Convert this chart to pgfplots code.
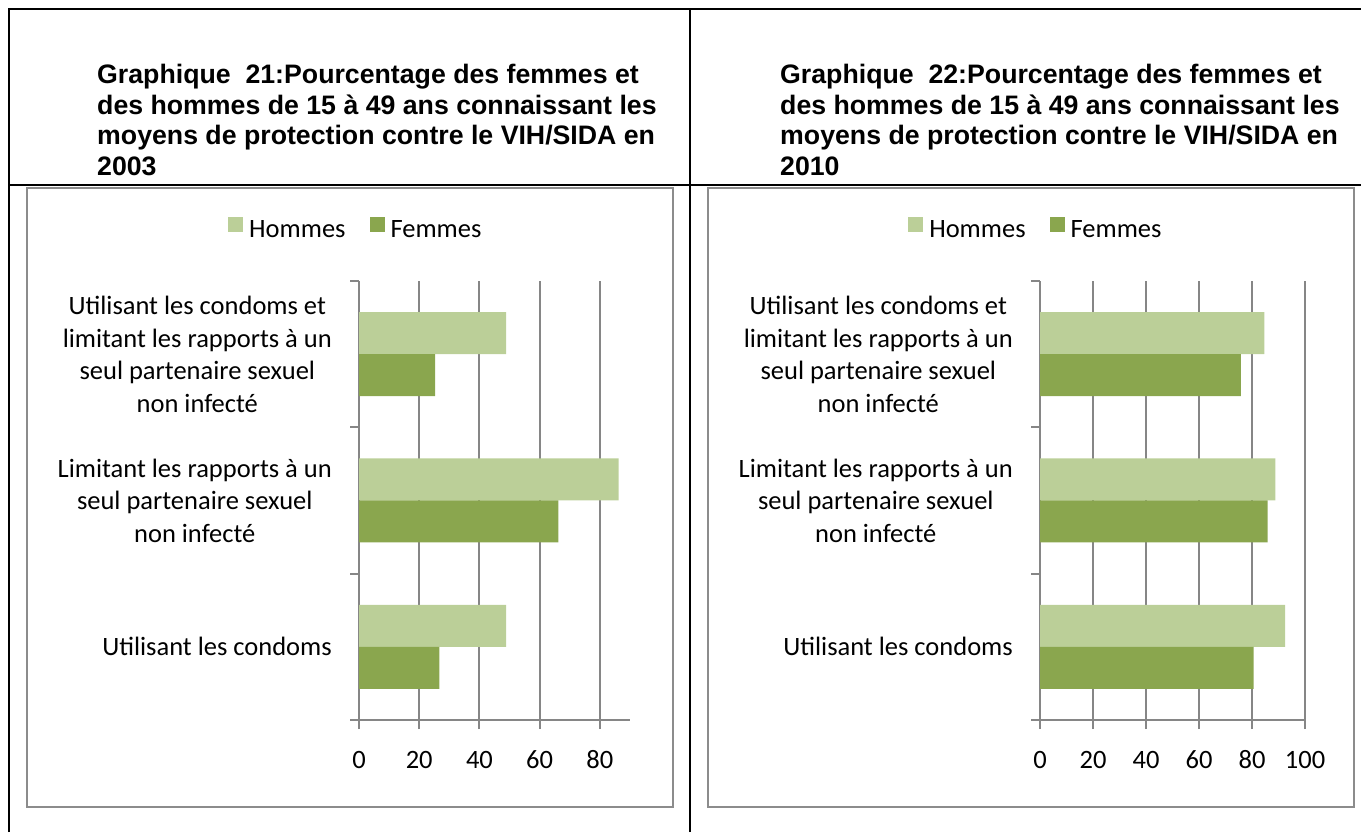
\documentclass[border=0pt]{standalone}
\usepackage{fontspec}
\setmainfont{Carlito}
\newfontfamily\titlefont{Liberation Sans}
\usepackage{pgfplots}
\pgfplotsset{compat=1.18}
\definecolor{lightg}{HTML}{BBCF98}
\definecolor{darkg}{HTML}{8AA64E}
\definecolor{axgray}{HTML}{868686}
\definecolor{boxgray}{HTML}{8C8C8C}
\newcommand\cf{\fontsize{26.5bp}{32.5bp}\selectfont}
\newcommand\tf{\titlefont\bfseries\fontsize{26.7bp}{30.7bp}\selectfont}
\pgfplotsset{
  mybar/.style={
    xbar, scale only axis, height=439bp,
    ymin=-0.5, ymax=2.5, xmin=0,
    axis lines=left,
    axis line style={line width=2bp, axgray, -},
    ytick={0,1,2}, minor ytick={-0.5,0.5,1.5,2.5},
    major y tick style={draw=none},
    tick align=outside,
    major tick length=9bp, minor tick length=9bp,
    tick style={line width=2bp, axgray},
    xmajorgrids, major grid style={line width=2bp, axgray},
    yticklabels={{Utilisant les condoms},{Limitant les rapports à un\\seul partenaire sexuel\\non infecté},{Utilisant les condoms et\\limitant les rapports à un\\seul partenaire sexuel\\non infecté}},
    yticklabel style={align=center, font=\cf, inner sep=0pt, xshift=-18bp},
    xticklabel style={font=\cf, inner sep=0pt, text height=17bp, text depth=0pt, yshift=-22bp},
    /pgf/number format/assume math mode=true,
    bar width=42bp,
    legend columns=2,
    legend style={draw=none, fill=none, font=\cf, anchor=west, inner sep=0pt,
      nodes={inner sep=0pt},
      /tikz/every odd column/.append style={column sep=6bp},
      /tikz/every even column/.append style={column sep=24bp}},
    legend image code/.code={\fill[##1] (0bp,-3bp) rectangle (15bp,12bp);},
  }
}
\begin{document}
\begin{tikzpicture}[x=1bp,y=1bp]
\useasboundingbox (0,0) rectangle (1361,832);
% table
\draw[line width=2bp] (8.5,0) -- (8.5,823) -- (1361,823);
\draw[line width=2bp] (690,0) -- (690,823);
\draw[line width=2bp] (8.5,647) -- (1361,647);
% chart boxes
\draw[line width=2.5bp, boxgray] (27,25) rectangle (673,644);
\draw[line width=2.5bp, boxgray] (708,25) rectangle (1354,644);
% titles
\node[anchor=base west, inner sep=0pt, font=\tf] at (97,748.5) {Graphique\ \ 21:Pourcentage des femmes et};
\node[anchor=base west, inner sep=0pt, font=\tf] at (97,717.8) {des hommes de 15 à 49 ans connaissant les};
\node[anchor=base west, inner sep=0pt, font=\tf] at (97,687.1) {moyens de protection contre le VIH/SIDA en};
\node[anchor=base west, inner sep=0pt, font=\tf] at (97,656.4) {2003};
\node[anchor=base west, inner sep=0pt, font=\tf] at (780,748.5) {Graphique\ \ 22:Pourcentage des femmes et};
\node[anchor=base west, inner sep=0pt, font=\tf] at (780,717.8) {des hommes de 15 à 49 ans connaissant les};
\node[anchor=base west, inner sep=0pt, font=\tf] at (780,687.1) {moyens de protection contre le VIH/SIDA en};
\node[anchor=base west, inner sep=0pt, font=\tf] at (780,656.4) {2010};
% left chart
\begin{axis}[mybar, width=271bp, xmax=90, xtick={0,20,40,60,80},
  at={(359bp,112bp)}, anchor=south west,
  legend style={at={(axis description cs:-0.4834,1.1207)}}]
\addplot[fill=lightg, draw=none, bar shift=21bp] coordinates {(48.9,0) (86.2,1) (48.9,2)};
\addplot[fill=darkg, draw=none, bar shift=-21bp] coordinates {(26.7,0) (66.2,1) (25.3,2)};
\legend{Hommes, Femmes}
\end{axis}
% right chart
\begin{axis}[mybar, width=265bp, xmax=100, xtick={0,20,40,60,80,100},
  at={(1040bp,112bp)}, anchor=south west,
  legend style={at={(axis description cs:-0.498,1.1207)}}]
\addplot[fill=lightg, draw=none, bar shift=21bp] coordinates {(92.5,0) (88.8,1) (84.7,2)};
\addplot[fill=darkg, draw=none, bar shift=-21bp] coordinates {(80.6,0) (85.9,1) (75.8,2)};
\legend{Hommes, Femmes}
\end{axis}
\end{tikzpicture}
\end{document}
